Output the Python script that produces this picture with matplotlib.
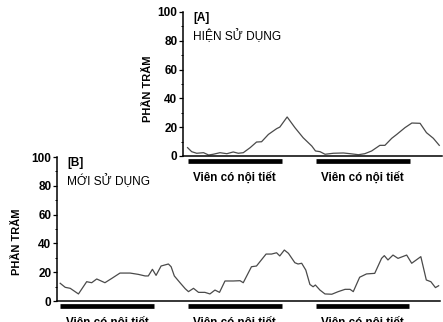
import matplotlib
matplotlib.use("Agg")
import matplotlib.pyplot as plt
from matplotlib.ticker import MultipleLocator

plt.rcParams['font.family'] = ['Liberation Sans', 'DejaVu Sans']

# Ngày trong chu kỳ (28 ngày / chu kỳ)
ngay_a = [27.9, 28.8, 29.9, 31.4, 32.5, 33.5, 35.0, 36.5, 37.9, 39.0, 40.1, 41.6,
          43.0, 44.1, 45.6, 47.4, 48.1, 49.7, 51.4, 53.2, 55.1, 55.9, 56.9, 58.0,
          59.8, 62.0, 63.5, 65.3, 66.7, 68.2, 70.0, 71.1, 72.6, 73.7, 75.5, 77.0,
          78.8, 80.2, 81.7, 83.0]
phan_tram_a = [5.8, 3.0, 1.9, 2.3, 0.7, 1.2, 2.3, 1.6, 2.8, 1.9, 2.3, 5.8,
               9.7, 9.9, 15.0, 19.0, 20.1, 27.1, 19.7, 12.7, 6.9, 3.5, 3.0, 1.2,
               1.9, 2.1, 1.6, 0.9, 1.6, 3.5, 7.4, 7.4, 12.3, 15.0, 19.7, 22.9,
               22.7, 16.2, 12.3, 7.4]

ngay_b = [0.0, 1.1, 2.2, 4.0, 5.8, 6.9, 8.0, 9.8, 11.3, 13.1, 15.3, 17.1, 18.6,
          19.3, 20.2, 21.0, 22.1, 23.7, 24.3, 25.0, 26.3, 27.4, 28.1, 29.2, 30.3,
          31.7, 32.8, 33.9, 34.9, 36.1, 37.9, 39.4, 40.1, 41.9, 43.0, 45.1, 46.3,
          47.4, 48.1, 49.1, 50.0, 51.4, 52.1, 52.9, 53.8, 54.7, 55.4, 55.9, 56.9,
          58.0, 59.5, 60.9, 62.4, 63.5, 64.2, 65.6, 67.1, 68.9, 70.4, 71.0, 71.8,
          72.9, 74.0, 75.9, 77.0, 79.0, 80.2, 81.2, 82.2, 82.9]
phan_tram_b = [12.3, 9.5, 8.8, 4.9, 13.4, 12.7, 15.3, 12.7, 15.7, 19.4, 19.4, 18.5, 17.4,
               17.4, 22.0, 17.8, 24.3, 25.7, 23.8, 17.4, 12.5, 8.5, 6.5, 8.8, 6.0,
               6.0, 4.9, 7.6, 6.0, 13.9, 13.9, 14.1, 12.7, 23.8, 24.3, 32.6, 32.6,
               33.5, 31.3, 35.4, 33.1, 26.6, 25.7, 26.2, 21.5, 11.5, 9.9, 11.1, 7.6,
               4.9, 4.7, 6.5, 8.1, 8.1, 6.5, 16.5, 18.8, 19.2, 29.6, 31.5, 28.5,
               31.9, 29.6, 31.9, 26.2, 30.8, 14.6, 13.4, 9.3, 10.6]

# Thời gian uống viên có nội tiết
bat_dau_a = [28, 56]
ket_thuc_a = [48.5, 76.5]
bat_dau_b = [0, 28, 56]
ket_thuc_b = [20.5, 48.5, 76.5]

nhan_thanh = 'Viên có nội tiết'
nhan_y = 'PHẦN TRĂM'

fig = plt.figure(figsize=(4.43, 3.22), dpi=100)
ax_b = fig.add_axes([57/443, 1 - 301/322, 383/443, 144/322])
ax_a = fig.add_axes([183/443, 1 - 156/322, 259/443, 144/322])
ax_a.patch.set_visible(False)
ax_b.patch.set_visible(False)


def ve_panel(ax, ngay, pt, bat_dau, ket_thuc, xlim, nhan, ten, x_chu):
    ax.plot(ngay, pt, color='#4a4a4a', linewidth=0.9)
    ax.set_xlim(*xlim)
    ax.set_ylim(0, 100)
    ax.spines['top'].set_visible(False)
    ax.spines['right'].set_visible(False)
    ax.spines['left'].set_linewidth(1.1)
    ax.spines['bottom'].set_linewidth(1.1)
    ax.set_xticks([])
    ax.yaxis.set_major_locator(MultipleLocator(20))
    ax.yaxis.set_minor_locator(MultipleLocator(10))
    ax.tick_params(axis='y', which='major', length=3, width=0.9, pad=1,
                   labelsize=8.5)
    ax.tick_params(axis='y', which='minor', length=1.8, width=0.7)
    for lb in ax.get_yticklabels():
        lb.set_fontweight('bold')
    for s, e in zip(bat_dau, ket_thuc):
        ax.plot([s, e], [-3.5, -3.5], color='black', linewidth=3.4,
                solid_capstyle='butt', clip_on=False)
        ax.text((s + e) / 2, -11, nhan_thanh, ha='center', va='top',
                fontsize=8.4, fontweight='bold', clip_on=False)
    ax.text(x_chu, 1.0, nhan, transform=ax.transAxes, ha='left', va='top',
            fontsize=8.5, fontweight='bold')
    ax.text(x_chu, 0.83, ten, transform=ax.transAxes, ha='left', va='center',
            fontsize=8.6)


ve_panel(ax_a, ngay_a, phan_tram_a, bat_dau_a, ket_thuc_a, (26.9, 83.6),
         '[A]', 'HIỆN SỬ DỤNG', 0.039)
ve_panel(ax_b, ngay_b, phan_tram_b, bat_dau_b, ket_thuc_b, (-0.7, 83.2),
         '[B]', 'MỚI SỬ DỤNG', 0.026)

fig.text(148/443, 1 - 89/322, nhan_y, rotation=90, ha='center', va='center',
         fontsize=8, fontweight='bold')
fig.text(17/443, 1 - 242/322, nhan_y, rotation=90, ha='center', va='center',
         fontsize=8, fontweight='bold')

fig.savefig('out.png', dpi=100)
